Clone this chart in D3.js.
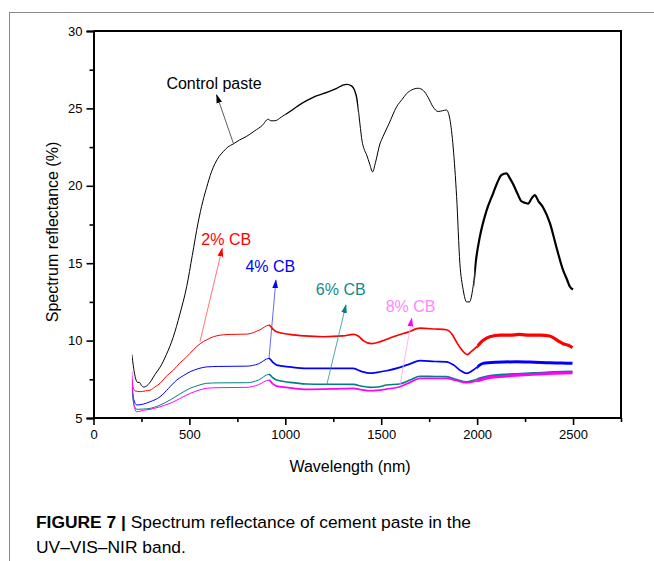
<!DOCTYPE html>
<html><head><meta charset="utf-8">
<script src="https://cdn.jsdelivr.net/npm/d3@7"></script>
<style>
html,body{margin:0;padding:0;background:#fff;}
svg text{font-family:"Liberation Sans",Arial,sans-serif;}
</style></head>
<body><svg id="c" width="654" height="561"></svg>
<script>
// ---- data (wavelength nm, reflectance %) ----
const control = [[200,9.1],[215,7.8],[230,7.3],[240,7.3],[250,7.1],[262,7.0],[280,7.1],[300,7.4],[320,7.8],[348,8.3],[380,9.1],[415,10.2],[450,11.7],[486,13.5],[515,15.5],[545,17.6],[570,19.0],[590,19.9],[615,20.9],[634,21.45],[655,21.9],[676,22.2],[700,22.5],[728,22.7],[760,22.95],[799,23.2],[840,23.55],[880,23.9],[910,24.3],[925,24.2],[946,24.2],[980,24.45],[1024,24.8],[1070,25.2],[1111,25.5],[1150,25.75],[1197,25.95],[1240,26.15],[1268,26.3],[1300,26.5],[1320,26.55],[1345,26.45],[1360,26.2],[1372,25.7],[1380,25.0],[1389,24.0],[1400,22.9],[1410,22.4],[1424,22.0],[1440,21.4],[1455,20.9],[1470,21.5],[1493,22.7],[1510,23.2],[1540,24.0],[1580,25.1],[1610,25.6],[1632,25.95],[1660,26.2],[1693,26.3],[1720,26.15],[1745,25.7],[1770,25.1],[1797,24.8],[1820,24.85],[1840,24.9],[1858,24.3],[1875,22.5],[1893,19.3],[1910,15.0],[1927,13.3],[1945,12.5],[1960,12.5],[1979,13.5],[1995,15.3],[2014,16.7],[2049,18.4],[2083,19.5],[2105,20.2],[2127,20.7],[2153,20.8],[2170,20.5],[2188,20.1],[2210,19.5],[2231,19.0],[2250,18.9],[2266,18.85],[2285,19.2],[2300,19.4],[2320,19.0],[2344,18.6],[2379,17.6],[2413,16.05],[2448,14.55],[2470,13.9],[2483,13.5],[2500,13.3]];
const cb2 = [[200,7.5],[208,6.9],[218,6.75],[243,6.7],[270,6.75],[295,6.8],[320,7.0],[347,7.24],[380,7.7],[417,8.1],[450,8.55],[486,8.95],[520,9.4],[556,9.8],[590,10.05],[625,10.25],[660,10.35],[712,10.4],[799,10.42],[868,10.7],[915,11.0],[935,10.75],[955,10.57],[1024,10.4],[1100,10.3],[1198,10.25],[1300,10.3],[1354,10.4],[1380,10.3],[1406,10.0],[1450,9.8],[1500,9.95],[1563,10.25],[1640,10.55],[1702,10.8],[1780,10.75],[1840,10.7],[1870,10.4],[1893,9.9],[1920,9.4],[1948,9.1],[1970,9.3],[1997,9.6],[2030,10.0],[2066,10.25],[2120,10.35],[2170,10.35],[2220,10.4],[2274,10.35],[2330,10.35],[2378,10.3],[2420,10.0],[2448,9.8],[2475,9.7],[2497,9.55]];
const cb4 = [[200,7.0],[210,6.2],[226,5.84],[260,5.9],[295,6.05],[347,6.37],[390,6.9],[434,7.45],[470,7.75],[504,7.99],[550,8.2],[590,8.3],[650,8.33],[799,8.35],[860,8.5],[915,8.85],[935,8.6],[955,8.42],[1024,8.3],[1111,8.2],[1250,8.2],[1354,8.2],[1400,8.0],[1441,7.9],[1480,7.95],[1528,8.05],[1597,8.27],[1650,8.5],[1702,8.7],[1780,8.65],[1840,8.63],[1880,8.4],[1915,8.05],[1945,7.88],[1980,8.1],[2031,8.53],[2100,8.6],[2205,8.63],[2300,8.6],[2378,8.57],[2440,8.55],[2497,8.53]];
const cb6 = [[200,6.9],[210,5.9],[226,5.56],[260,5.58],[295,5.62],[340,5.8],[399,6.16],[450,6.55],[504,6.92],[550,7.12],[590,7.24],[650,7.27],[799,7.28],[860,7.45],[915,7.82],[935,7.6],[955,7.45],[1024,7.3],[1111,7.2],[1250,7.18],[1354,7.17],[1400,7.05],[1441,6.98],[1480,7.0],[1528,7.13],[1597,7.2],[1650,7.45],[1702,7.7],[1780,7.68],[1840,7.67],[1890,7.5],[1945,7.34],[2000,7.5],[2060,7.7],[2118,7.77],[2200,7.83],[2292,7.88],[2400,7.95],[2497,7.99]];
const cb8 = [[200,8.0],[207,6.3],[215,5.6],[226,5.4],[260,5.5],[295,5.56],[340,5.7],[399,5.95],[450,6.25],[504,6.59],[550,6.8],[590,6.92],[650,6.96],[799,6.98],[860,7.15],[915,7.45],[935,7.2],[955,7.06],[1024,6.95],[1111,6.85],[1250,6.88],[1354,6.92],[1400,6.82],[1441,6.76],[1480,6.78],[1528,6.87],[1597,7.02],[1650,7.3],[1702,7.56],[1780,7.56],[1840,7.56],[1890,7.42],[1945,7.28],[2000,7.4],[2060,7.6],[2118,7.67],[2200,7.75],[2292,7.82],[2400,7.88],[2497,7.92]];

const seriesNames = ["Control paste","2% CB","4% CB","6% CB","8% CB"];
const seriesData = [control, cb2, cb4, cb6, cb8];
const seriesColors = ["#000000","#ff0000","#0000ff","#008080","#ff00ff"];
const labelColors = ["#000000","#ff0000","#0000ff","#138a8a","#ff88ff"];
const arrowColors = ["#333333","#ff5050","#4040ff","#2a9090","#ffa0ff"];
// annotation: text baseline centre [wl, value], arrow tail [wl, value], arrow tip [wl, value]
const labelPos = [[628,26.25],[692,16.18],[922,14.43],[1289,12.93],[1653,11.85]];
const arrowTail = [[729,22.75],[555,9.93],[915,8.86],[1216,7.13],[1598,7.13]];
const arrowTip  = [[642,25.87],[671,15.96],[951,13.91],[1316,12.3],[1659,11.44]];
// stroke-width bands along wavelength: [fromWl, toWl, width]
const widthBands = [
  [[200,1000,1],[1000,1380,1.4],[1380,1985,1],[1985,2510,2.2]],
  [[200,915,1],[915,2000,1.7],[2000,2510,3.2]],
  [[200,915,1],[915,2000,1.7],[2000,2510,3.0]],
  [[200,915,1],[915,2000,1.6],[2000,2510,2.6]],
  [[200,915,1],[915,2000,1.7],[2000,2510,2.8]]
];

const xTicks = [0,500,1000,1500,2000,2500];
const yTicks = [5,10,15,20,25,30];

const svg = d3.select("#c");
svg.append("rect").attr("width",654).attr("height",561).attr("fill","#fff");
// figure frame (gray)
svg.append("line").attr("x1",9).attr("x2",654).attr("y1",12.5).attr("y2",12.5).attr("stroke","#8a8a8a").attr("stroke-width",1);
svg.append("line").attr("x1",9.5).attr("x2",9.5).attr("y1",12).attr("y2",561).attr("stroke","#8a8a8a").attr("stroke-width",1);

const L=93.5, R=621, T=31, B=418;
const x = d3.scaleLinear().domain([0,2750]).range([L,R]);
const y = d3.scaleLinear().domain([5,30]).range([B,T]);

const defs = svg.append("defs");
arrowColors.forEach((c,i)=>{
  defs.append("marker").attr("id","ah"+i).attr("viewBox","0 0 10 10").attr("refX",9).attr("refY",5)
    .attr("markerWidth",9).attr("markerHeight",9).attr("markerUnits","userSpaceOnUse").attr("orient","auto")
    .append("path").attr("d","M0,1.8 L10,5 L0,8.2 Z").attr("fill",i==0?"#000":seriesColors[i]);
});

const line = d3.line().x(d=>x(d[0])).y(d=>y(d[1])).curve(d3.curveMonotoneX);
const gl = svg.append("g");
seriesData.forEach((s,i)=>{
  const d = line(s);
  widthBands[i].forEach(([from,to,w],k)=>{
    const id = `clip${i}_${k}`;
    defs.append("clipPath").attr("id",id).append("rect")
      .attr("x",x(from)).attr("y",0).attr("width",x(to)-x(from)).attr("height",561);
    gl.append("path").attr("d",d).attr("clip-path",`url(#${id})`).attr("fill","none")
      .attr("stroke",seriesColors[i]).attr("stroke-width",w).attr("stroke-linejoin","round");
  });
});

// arrows + labels
seriesNames.forEach((n,i)=>{
  svg.append("line").attr("x1",x(arrowTail[i][0])).attr("y1",y(arrowTail[i][1]))
    .attr("x2",x(arrowTip[i][0])).attr("y2",y(arrowTip[i][1]))
    .attr("stroke",arrowColors[i]).attr("stroke-width",0.8).attr("marker-end","url(#ah"+i+")");
  svg.append("text").attr("x",x(labelPos[i][0])).attr("y",y(labelPos[i][1])).attr("text-anchor","middle")
    .attr("font-size",16).attr("fill",labelColors[i]).text(n);
});

// frame top/right
svg.append("path").attr("d",`M${L},${T}H${R}V${B}`).attr("fill","none").attr("stroke","#000").attr("stroke-width",2);

const xAxis = svg.append("g").attr("transform",`translate(0,${B})`)
  .call(d3.axisBottom(x).tickValues(xTicks).tickSize(7).tickPadding(5).tickFormat(d3.format("d")));
const xMinor = svg.append("g").attr("transform",`translate(0,${B})`)
  .call(d3.axisBottom(x).tickValues(d3.range(250,2751,500)).tickSize(4).tickFormat(""));
const yAxis = svg.append("g").attr("transform",`translate(${L},0)`)
  .call(d3.axisLeft(y).tickValues(yTicks).tickSize(7).tickPadding(4));
const yMinor = svg.append("g").attr("transform",`translate(${L},0)`)
  .call(d3.axisLeft(y).tickValues(d3.range(7.5,30,5)).tickSize(4).tickFormat(""));
[xAxis,xMinor,yAxis,yMinor].forEach(g=>{
  g.select(".domain").attr("stroke","#000").attr("stroke-width",2);
  g.selectAll(".tick line").attr("stroke","#000").attr("stroke-width",1.6);
  g.selectAll("text").attr("font-size",13).attr("fill","#000").style("font-family","Liberation Sans, Arial, sans-serif");
});
xAxis.select(".domain").attr("d",`M${L},0H${R}`);
xMinor.select(".domain").remove();
yMinor.select(".domain").remove();

svg.append("text").attr("x",350).attr("y",472).attr("text-anchor","middle").attr("font-size",16).text("Wavelength (nm)");
svg.append("text").attr("transform",`translate(58,232) rotate(-90)`).attr("text-anchor","middle").attr("font-size",16).text("Spectrum reflectance (%)");

// caption
const capFont = "'Liberation Sans',Arial,sans-serif";
const cap = svg.append("text").attr("x",36).attr("y",528).attr("font-size",17.4).style("font-family",capFont);
cap.append("tspan").attr("font-weight","bold").text("FIGURE 7 |");
cap.append("tspan").text(" Spectrum reflectance of cement paste in the");
svg.append("text").attr("x",36).attr("y",553).attr("font-size",17.4).style("font-family",capFont).text("UV–VIS–NIR band.");
</script></body></html>
